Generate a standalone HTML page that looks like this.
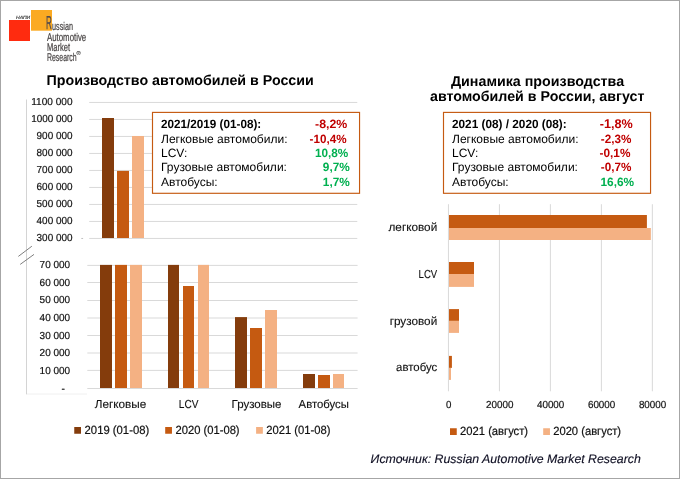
<!DOCTYPE html>
<html lang="ru"><head><meta charset="utf-8"><title>Производство автомобилей в России</title>
<style>
html,body{margin:0;padding:0;background:#fff;}
body{width:680px;height:479px;overflow:hidden;}
svg{display:block;}
text{font-family:"Liberation Sans",sans-serif;fill:#000;text-rendering:geometricPrecision;}
.ax{font-size:10.2px;fill:#111;stroke:#111;stroke-width:0.2px;}
.ac{font-size:11.6px;fill:#111;stroke:#111;stroke-width:0.12px;}
.lg{font-size:11.9px;fill:#111;stroke:#111;stroke-width:0.2px;}
.t{font-size:14.2px;font-weight:bold;}
.b{font-size:12.03px;}
.bb{font-size:12px;font-weight:bold;}
.r{fill:#C00000;font-weight:bold;}
.g{fill:#00B050;font-weight:bold;}
.logo{font-size:11.4px;fill:#484444;stroke:#484444;stroke-width:0.22px;}
</style></head><body>
<svg width="680" height="479" viewBox="0 0 680 479">
<rect x="0" y="0" width="680" height="479" fill="#fff"/>
<rect x="0.5" y="0.5" width="679" height="478" fill="none" stroke="#A6A6A6" stroke-width="1"/>

<rect x="9" y="20" width="21" height="21" fill="#FF2B0F"/>
<rect x="31" y="10" width="21" height="20.7" fill="#FBAA22"/>
<text x="16" y="19" style="font-size:4.7px;fill:#333;stroke:#333;stroke-width:0.15px;font-style:italic" textLength="14.2" lengthAdjust="spacingAndGlyphs">НАПИ</text>
<text class="logo"><tspan x="46" y="29.4" style="font-size:18.8px;fill:#4f4a50;stroke:#4f4a50;stroke-width:0.25px" textLength="5.8" lengthAdjust="spacingAndGlyphs">R</tspan><tspan x="52" y="29.5" textLength="21" lengthAdjust="spacingAndGlyphs">ussian</tspan></text>
<text x="47" y="40.6" class="logo" textLength="39.2" lengthAdjust="spacingAndGlyphs">Automotive</text>
<text x="47" y="50.6" class="logo" textLength="23.1" lengthAdjust="spacingAndGlyphs">Market</text>
<text x="47" y="60.8" class="logo" textLength="29.6" lengthAdjust="spacingAndGlyphs">Research</text>
<text x="76.6" y="54.9" style="font-size:5.6px;fill:#555;stroke:#555;stroke-width:0.15px">®</text>
<text x="46.5" y="85" class="t" textLength="267.3" lengthAdjust="spacingAndGlyphs">Производство автомобилей в России</text>
<path d="M26.5 394 H87" fill="none" stroke="#F0F0F0" stroke-width="1"/>
<path d="M26.5 99.5 V394.3" fill="none" stroke="#D4D4D4" stroke-width="1"/>
<path d="M18.35 256.4 L31.87 246.2 M20.2 264.4 L34 254.4" fill="none" stroke="#7F7F7F" stroke-width="1"/>
<line x1="89.2" x2="357.3" y1="102.45" y2="102.45" stroke="#D9D9D9" stroke-width="1"/>
<text x="31.20" y="105" class="ax" textLength="41.3" lengthAdjust="spacingAndGlyphs">1100 000</text>
<line x1="89.2" x2="357.3" y1="119.45" y2="119.45" stroke="#D9D9D9" stroke-width="1"/>
<text x="31.20" y="122" class="ax" textLength="41.3" lengthAdjust="spacingAndGlyphs">1000 000</text>
<line x1="89.2" x2="357.3" y1="136.45" y2="136.45" stroke="#D9D9D9" stroke-width="1"/>
<text x="36.60" y="139" class="ax" textLength="35.9" lengthAdjust="spacingAndGlyphs">900 000</text>
<line x1="89.2" x2="357.3" y1="153.45" y2="153.45" stroke="#D9D9D9" stroke-width="1"/>
<text x="36.60" y="156" class="ax" textLength="35.9" lengthAdjust="spacingAndGlyphs">800 000</text>
<line x1="89.2" x2="357.3" y1="170.45" y2="170.45" stroke="#D9D9D9" stroke-width="1"/>
<text x="36.60" y="173" class="ax" textLength="35.9" lengthAdjust="spacingAndGlyphs">700 000</text>
<line x1="89.2" x2="357.3" y1="187.45" y2="187.45" stroke="#D9D9D9" stroke-width="1"/>
<text x="36.60" y="190" class="ax" textLength="35.9" lengthAdjust="spacingAndGlyphs">600 000</text>
<line x1="89.2" x2="357.3" y1="204.45" y2="204.45" stroke="#D9D9D9" stroke-width="1"/>
<text x="36.60" y="207" class="ax" textLength="35.9" lengthAdjust="spacingAndGlyphs">500 000</text>
<line x1="89.2" x2="357.3" y1="221.45" y2="221.45" stroke="#D9D9D9" stroke-width="1"/>
<text x="36.60" y="224" class="ax" textLength="35.9" lengthAdjust="spacingAndGlyphs">400 000</text>
<line x1="89.2" x2="357.3" y1="238.45" y2="238.45" stroke="#D9D9D9" stroke-width="1"/>
<text x="36.60" y="241" class="ax" textLength="35.9" lengthAdjust="spacingAndGlyphs">300 000</text>
<rect x="81.3" y="237.95" width="1.8" height="1" fill="#BFBFBF"/>
<rect x="102" y="118" width="12" height="120.00" fill="#843C0C"/>
<rect x="117" y="170.9" width="12" height="67.10" fill="#C55A11"/>
<rect x="132" y="136" width="12" height="102.00" fill="#F4B183"/>
<line x1="87.3" x2="357.6" y1="265.40" y2="265.40" stroke="#D9D9D9" stroke-width="1"/>
<text x="39.6" y="268.1" class="ax" textLength="30.5" lengthAdjust="spacingAndGlyphs">70 000</text>
<line x1="87.3" x2="357.6" y1="282.50" y2="282.50" stroke="#D9D9D9" stroke-width="1"/>
<text x="39.6" y="285.9" class="ax" textLength="30.5" lengthAdjust="spacingAndGlyphs">60 000</text>
<line x1="87.3" x2="357.6" y1="300.50" y2="300.50" stroke="#D9D9D9" stroke-width="1"/>
<text x="39.6" y="303.3" class="ax" textLength="30.5" lengthAdjust="spacingAndGlyphs">50 000</text>
<line x1="87.3" x2="357.6" y1="318.00" y2="318.00" stroke="#D9D9D9" stroke-width="1"/>
<text x="39.6" y="320.8" class="ax" textLength="30.5" lengthAdjust="spacingAndGlyphs">40 000</text>
<line x1="87.3" x2="357.6" y1="335.50" y2="335.50" stroke="#D9D9D9" stroke-width="1"/>
<text x="39.6" y="338.5" class="ax" textLength="30.5" lengthAdjust="spacingAndGlyphs">30 000</text>
<line x1="87.3" x2="357.6" y1="353.00" y2="353.00" stroke="#D9D9D9" stroke-width="1"/>
<text x="39.6" y="356.1" class="ax" textLength="30.5" lengthAdjust="spacingAndGlyphs">20 000</text>
<line x1="87.3" x2="357.6" y1="370.40" y2="370.40" stroke="#D9D9D9" stroke-width="1"/>
<text x="39.6" y="373.6" class="ax" textLength="30.5" lengthAdjust="spacingAndGlyphs">10 000</text>
<line x1="87.3" x2="357.6" y1="388.50" y2="388.50" stroke="#D9D9D9" stroke-width="1"/>
<text x="63.2" y="391.60" class="ax" text-anchor="middle">-</text>
<rect x="100" y="264.9" width="12" height="123.10" fill="#843C0C"/>
<rect x="115" y="264.9" width="12" height="123.10" fill="#C55A11"/>
<rect x="130" y="264.9" width="12" height="123.10" fill="#F4B183"/>
<rect x="168" y="264.9" width="11" height="123.10" fill="#843C0C"/>
<rect x="183" y="286" width="11" height="102.00" fill="#C55A11"/>
<rect x="198" y="264.9" width="11" height="123.10" fill="#F4B183"/>
<rect x="235" y="317.1" width="12" height="70.90" fill="#843C0C"/>
<rect x="250" y="328" width="12" height="60.00" fill="#C55A11"/>
<rect x="265" y="310" width="12" height="78.00" fill="#F4B183"/>
<rect x="303" y="374" width="12" height="14.00" fill="#843C0C"/>
<rect x="318" y="375" width="12" height="13.00" fill="#C55A11"/>
<rect x="333" y="374" width="11" height="14.00" fill="#F4B183"/>
<text x="94.7" y="407.7" class="ac" textLength="51.55" lengthAdjust="spacingAndGlyphs">Легковые</text>
<text x="178.79999999999998" y="407.7" class="ac" textLength="19.60" lengthAdjust="spacingAndGlyphs">LCV</text>
<text x="231.6" y="407.7" class="ac" textLength="49.90" lengthAdjust="spacingAndGlyphs">Грузовые</text>
<text x="298.59999999999997" y="407.7" class="ac" textLength="50.30" lengthAdjust="spacingAndGlyphs">Автобусы</text>
<rect x="74.25" y="427" width="6.75" height="6.75" fill="#843C0C"/>
<text x="84.6" y="433.75" class="lg" textLength="64.60" lengthAdjust="spacingAndGlyphs">2019 (01-08)</text>
<rect x="165.2" y="427" width="6.75" height="6.75" fill="#C55A11"/>
<text x="175.5" y="433.75" class="lg" textLength="64.10" lengthAdjust="spacingAndGlyphs">2020 (01-08)</text>
<rect x="256.1" y="427" width="6.75" height="6.75" fill="#F4B183"/>
<text x="266.2" y="433.75" class="lg" textLength="64.40" lengthAdjust="spacingAndGlyphs">2021 (01-08)</text>
<rect x="152.5" y="112.4" width="207.05" height="80.9" fill="#fff" stroke="#C55A11" stroke-width="1.15"/>
<text x="161" y="127.80" class="bb" textLength="100.25" lengthAdjust="spacingAndGlyphs">2021/2019 (01-08):</text>
<text x="315.10" y="127.80" class="b r" textLength="32.2" lengthAdjust="spacingAndGlyphs">-8,2%</text>
<text x="161" y="142.60" class="b">Легковые автомобили:</text>
<text x="309.60" y="142.60" class="b r" textLength="37.0" lengthAdjust="spacingAndGlyphs">-10,4%</text>
<text x="161" y="156.90" class="b">LCV:</text>
<text x="315.00" y="156.90" class="b g" textLength="33.3" lengthAdjust="spacingAndGlyphs">10,8%</text>
<text x="161" y="170.95" class="b">Грузовые автомобили:</text>
<text x="322.80" y="170.95" class="b g" textLength="27.0" lengthAdjust="spacingAndGlyphs">9,7%</text>
<text x="161" y="185.80" class="b">Автобусы:</text>
<text x="322.80" y="185.80" class="b g" textLength="27.0" lengthAdjust="spacingAndGlyphs">1,7%</text>
<text x="450.9" y="85.5" class="t" textLength="173.2" lengthAdjust="spacingAndGlyphs">Динамика производства</text>
<text x="430" y="101.1" class="t" textLength="214.4" lengthAdjust="spacingAndGlyphs">автомобилей в России, август</text>
<rect x="443.5" y="112.4" width="207.05" height="80.9" fill="#fff" stroke="#C55A11" stroke-width="1.15"/>
<text x="452" y="127.80" class="bb" textLength="114.7" lengthAdjust="spacingAndGlyphs">2021 (08) / 2020 (08):</text>
<text x="599.70" y="127.80" class="b r" style="font-size:12.6px" textLength="33.0" lengthAdjust="spacingAndGlyphs">-1,8%</text>
<text x="452" y="142.60" class="b">Легковые автомобили:</text>
<text x="600.80" y="142.60" class="b r" textLength="30.6" lengthAdjust="spacingAndGlyphs">-2,3%</text>
<text x="452" y="156.90" class="b">LCV:</text>
<text x="599.50" y="156.90" class="b r" textLength="30.9" lengthAdjust="spacingAndGlyphs">-0,1%</text>
<text x="452" y="170.95" class="b">Грузовые автомобили:</text>
<text x="600.80" y="170.95" class="b r" textLength="30.6" lengthAdjust="spacingAndGlyphs">-0,7%</text>
<text x="452" y="185.80" class="b">Автобусы:</text>
<text x="600.50" y="185.80" class="b g" textLength="33.6" lengthAdjust="spacingAndGlyphs">16,6%</text>
<line x1="448.45" x2="448.45" y1="204.2" y2="391.3" stroke="#D9D9D9" stroke-width="1"/>
<text x="446.00" y="407.6" class="ax" textLength="5.4" lengthAdjust="spacingAndGlyphs">0</text>
<line x1="499.43" x2="499.43" y1="204.2" y2="391.3" stroke="#D9D9D9" stroke-width="1"/>
<text x="485.98" y="407.6" class="ax" textLength="27.4" lengthAdjust="spacingAndGlyphs">20000</text>
<line x1="550.40" x2="550.40" y1="204.2" y2="391.3" stroke="#D9D9D9" stroke-width="1"/>
<text x="536.95" y="407.6" class="ax" textLength="27.4" lengthAdjust="spacingAndGlyphs">40000</text>
<line x1="601.38" x2="601.38" y1="204.2" y2="391.3" stroke="#D9D9D9" stroke-width="1"/>
<text x="587.92" y="407.6" class="ax" textLength="27.4" lengthAdjust="spacingAndGlyphs">60000</text>
<line x1="652.35" x2="652.35" y1="204.2" y2="391.3" stroke="#D9D9D9" stroke-width="1"/>
<text x="638.90" y="407.6" class="ax" textLength="27.4" lengthAdjust="spacingAndGlyphs">80000</text>
<rect x="449" y="215" width="197.90" height="13" fill="#C55A11"/>
<rect x="449" y="228" width="201.85" height="12" fill="#F4B183"/>
<text x="388.5" y="230.6" class="ac" textLength="48.70" lengthAdjust="spacingAndGlyphs">легковой</text>
<rect x="449" y="262" width="25.00" height="12" fill="#C55A11"/>
<rect x="449" y="274" width="25.00" height="12.9" fill="#F4B183"/>
<text x="418.59999999999997" y="278.0" class="ac" textLength="18.60" lengthAdjust="spacingAndGlyphs">LCV</text>
<rect x="449" y="309.1" width="10.00" height="11.8" fill="#C55A11"/>
<rect x="449" y="320.90000000000003" width="10.00" height="12" fill="#F4B183"/>
<text x="389.7" y="324.9" class="ac" textLength="47.50" lengthAdjust="spacingAndGlyphs">грузовой</text>
<rect x="449" y="355.9" width="2.90" height="12" fill="#C55A11"/>
<rect x="449" y="367.9" width="2.00" height="12" fill="#F4B183"/>
<text x="396.09999999999997" y="370.9" class="ac" textLength="41.10" lengthAdjust="spacingAndGlyphs">автобус</text>
<rect x="450" y="428.25" width="6.75" height="6.75" fill="#C55A11"/>
<text x="460.1" y="435" class="lg" textLength="68.00" lengthAdjust="spacingAndGlyphs">2021 (август)</text>
<rect x="543.2" y="428.25" width="6.75" height="6.75" fill="#F4B183"/>
<text x="553.2" y="435" class="lg" textLength="67.90" lengthAdjust="spacingAndGlyphs">2020 (август)</text>
<text x="370.6" y="463" textLength="270.2" lengthAdjust="spacingAndGlyphs" style="font-size:12.3px;font-style:italic;fill:#0e0e22;stroke:#0e0e22;stroke-width:0.15px">Источник: Russian Automotive Market Research</text>
</svg></body></html>
